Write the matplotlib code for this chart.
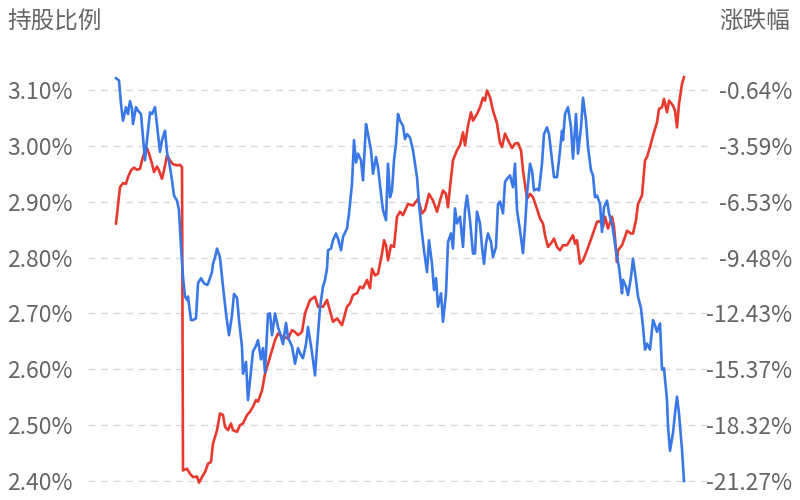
import matplotlib
matplotlib.use("Agg")
import matplotlib.pyplot as plt

plt.rcParams['font.family'] = ['Noto Sans CJK SC', 'DejaVu Sans']

# 持股比例 (%), left axis
red_t = [0, 4, 7, 10, 12, 15, 18, 21, 24, 26, 28, 31, 33, 36, 38, 41, 43, 46, 48, 51,
         54, 57, 61, 64, 66, 67, 71, 74, 77, 81, 83, 86, 89, 92, 95, 97, 101, 104, 107, 109,
         112, 115, 117, 121, 124, 127, 131, 134, 137, 140, 142, 146, 149, 152, 156, 159, 162, 166, 169, 172,
         176, 179, 182, 186, 189, 194, 199, 202, 207, 211, 217, 221, 226, 231, 234, 237, 241, 244, 247, 251,
         254, 256, 259, 262, 266, 268, 270, 272, 275, 278, 281, 284, 287, 292, 297, 302, 306, 309, 313, 317,
         321, 324, 327, 330, 332, 334, 337, 341, 344, 347, 349, 352, 355, 357, 361, 364, 367, 369, 371, 374,
         377, 381, 384, 386, 389, 392, 396, 399, 402, 405, 407, 411, 414, 417, 421, 424, 427, 429, 432, 436,
         438, 441, 444, 447, 451, 454, 457, 459, 461, 464, 467, 471, 474, 477, 481, 484, 487, 489, 492, 496,
         498, 501, 502, 506, 509, 511, 515, 517, 520, 522, 526, 529, 531, 534, 537, 541, 543, 546, 548, 551,
         553, 557, 559, 561, 563, 566, 568]
red_v = [2.861, 2.926, 2.933, 2.932, 2.944, 2.956, 2.961, 2.957, 2.959, 2.974, 2.986, 2.996, 2.986, 2.968, 2.953, 2.963, 2.956, 2.941, 2.956, 2.983,
         2.974, 2.967, 2.965, 2.966, 2.962, 2.419, 2.422, 2.413, 2.407, 2.408, 2.397, 2.407, 2.416, 2.431, 2.434, 2.467, 2.491, 2.521, 2.518, 2.497,
         2.491, 2.503, 2.491, 2.488, 2.500, 2.503, 2.518, 2.524, 2.533, 2.545, 2.542, 2.562, 2.592, 2.610, 2.634, 2.652, 2.664, 2.659, 2.657, 2.655,
         2.670, 2.667, 2.661, 2.667, 2.700, 2.724, 2.730, 2.712, 2.712, 2.724, 2.685, 2.691, 2.679, 2.712, 2.718, 2.733, 2.736, 2.748, 2.745, 2.760,
         2.745, 2.780, 2.768, 2.771, 2.807, 2.831, 2.822, 2.795, 2.822, 2.819, 2.873, 2.882, 2.876, 2.896, 2.893, 2.905, 2.879, 2.885, 2.914, 2.902,
         2.882, 2.902, 2.920, 2.914, 2.890, 2.926, 2.974, 2.992, 3.001, 3.024, 3.001, 3.036, 3.060, 3.045, 3.057, 3.069, 3.086, 3.081, 3.099, 3.087,
         3.063, 3.040, 3.005, 2.998, 3.022, 3.010, 2.996, 3.004, 3.005, 2.992, 2.956, 2.905, 2.914, 2.908, 2.887, 2.870, 2.861, 2.840, 2.819, 2.828,
         2.834, 2.819, 2.813, 2.822, 2.822, 2.831, 2.840, 2.825, 2.831, 2.789, 2.795, 2.813, 2.828, 2.843, 2.864, 2.865, 2.855, 2.873, 2.852, 2.873,
         2.855, 2.792, 2.813, 2.822, 2.837, 2.848, 2.843, 2.843, 2.867, 2.896, 2.911, 2.974, 2.980, 2.998, 3.018, 3.042, 3.066, 3.069, 3.084, 3.060,
         3.081, 3.072, 3.063, 3.033, 3.075, 3.111, 3.123]

# 涨跌幅 (%), right axis
blue_t = [0, 3, 5, 7, 10, 12, 14, 16, 17, 20, 22, 25, 27, 29, 31, 34, 36, 39, 42, 44,
          46, 49, 51, 54, 56, 58, 61, 63, 65, 67, 69, 71, 72, 75, 77, 80, 82, 85, 88, 91,
          92, 96, 97, 99, 101, 104, 107, 110, 113, 116, 118, 121, 123, 126, 127, 130, 132, 135, 137, 140,
          142, 145, 147, 149, 152, 154, 156, 159, 162, 164, 167, 170, 172, 176, 179, 182, 185, 187, 190, 192,
          196, 199, 201, 204, 207, 209, 211, 212, 215, 217, 220, 222, 225, 227, 231, 233, 236, 238, 240, 242,
          245, 247, 250, 252, 255, 257, 260, 262, 265, 267, 270, 272, 274, 276, 278, 280, 282, 284, 287, 289,
          291, 294, 297, 299, 301, 303, 306, 308, 311, 313, 316, 318, 320, 322, 325, 327, 330, 332, 335, 337,
          339, 341, 344, 347, 349, 351, 354, 357, 359, 361, 364, 366, 368, 370, 372, 375, 377, 380, 382, 384,
          387, 389, 391, 394, 397, 399, 401, 404, 407, 409, 411, 414, 416, 418, 421, 423, 426, 428, 431, 433,
          436, 438, 441, 443, 446, 447, 449, 452, 455, 457, 460, 462, 465, 467, 470, 472, 475, 477, 479, 481,
          484, 486, 488, 491, 493, 496, 498, 501, 503, 506, 507, 510, 512, 515, 517, 520, 522, 525, 527, 529,
          531, 534, 537, 539, 541, 544, 546, 548, 551, 552, 554, 557, 559, 561, 563, 566, 568]
blue_v = [-0.02, -0.14, -1.38, -2.26, -1.55, -1.91, -1.23, -1.64, -2.44, -1.55, -1.73, -1.91, -3.15, -4.35, -3.29, -1.82, -1.91, -1.55, -2.97, -3.91,
          -3.29, -2.79, -3.91, -4.71, -5.41, -6.21, -6.48, -6.98, -8.92, -10.51, -11.54, -11.72, -11.54, -12.78, -12.78, -12.69, -10.84, -10.57, -10.84, -10.93,
          -10.87, -10.25, -9.81, -9.48, -9.01, -9.48, -11.01, -12.43, -13.58, -12.52, -11.40, -11.60, -12.78, -14.20, -15.61, -14.99, -17.00, -15.49, -14.43, -14.14,
          -13.84, -14.85, -14.26, -15.52, -12.46, -12.43, -13.58, -12.43, -13.16, -13.46, -14.05, -12.93, -13.70, -14.17, -15.08, -14.26, -14.64, -14.79, -14.05, -13.14,
          -14.49, -15.70, -14.20, -12.13, -11.01, -10.66, -10.07, -9.10, -9.01, -8.57, -8.21, -8.48, -9.10, -8.39, -7.95, -7.15, -5.59, -3.29, -4.47, -4.00,
          -4.35, -5.41, -2.44, -2.97, -3.82, -5.06, -4.18, -4.71, -6.12, -6.98, -7.51, -4.53, -6.30, -5.94, -4.35, -3.47, -1.91, -2.26, -2.53, -3.23,
          -2.97, -3.15, -3.82, -4.53, -5.24, -6.65, -8.21, -9.10, -10.25, -8.57, -9.81, -11.19, -10.57, -12.07, -11.37, -12.87, -11.37, -8.66, -8.21, -9.01,
          -6.89, -7.68, -7.33, -8.92, -6.98, -6.21, -7.51, -9.27, -9.27, -7.06, -7.68, -8.92, -9.81, -8.74, -8.21, -8.66, -9.45, -8.92, -6.65, -6.53,
          -7.15, -5.50, -5.33, -5.15, -5.77, -4.53, -6.98, -8.04, -9.25, -7.86, -6.12, -4.53, -4.88, -5.94, -5.86, -5.94, -4.53, -2.97, -2.61, -2.97,
          -4.35, -5.24, -5.24, -4.35, -2.79, -3.29, -1.91, -1.55, -2.61, -4.26, -1.91, -4.00, -2.61, -1.05, -2.26, -3.65, -4.88, -5.15, -6.30, -6.21,
          -6.65, -8.13, -6.83, -6.48, -7.15, -7.68, -8.39, -9.45, -9.98, -11.37, -10.66, -11.01, -11.46, -10.51, -9.54, -10.66, -11.54, -12.16, -13.14, -14.34,
          -14.02, -14.34, -12.78, -13.05, -13.40, -12.96, -15.40, -15.32, -17.00, -18.38, -19.68, -18.73, -17.70, -16.82, -17.70, -19.62, -21.27]

left_ticks = [2.40, 2.50, 2.60, 2.70, 2.80, 2.90, 3.00, 3.10]
right_ticks = [-21.27, -18.32, -15.37, -12.43, -9.48, -6.53, -3.59, -0.64]

fig = plt.figure(figsize=(8, 5), dpi=100)
ax = fig.add_axes([0.11, 0.036, 0.7775, 0.816])
ax2 = ax.twinx()

red = '#e8392f'
blue = '#3a78e6'
grey = '#666666'

ax.plot(red_t, red_v, color=red, lw=1.9, clip_on=False, solid_joinstyle='round')
ax2.plot(blue_t, blue_v, color=blue, lw=1.9, clip_on=False, solid_joinstyle='round')

lo, hi = 2.40 - 1 / 560, 3.10 + 16 / 560
ax.set_ylim(lo, hi)
# map right axis so its ticks sit on the left gridlines
k = (right_ticks[-1] - right_ticks[0]) / (left_ticks[-1] - left_ticks[0])
ax2.set_ylim(right_ticks[0] + (lo - left_ticks[0]) * k, right_ticks[0] + (hi - left_ticks[0]) * k)
ax.set_xlim(-28, 594)

ax.set_yticks(left_ticks)
ax.set_yticklabels([f'{v:.2f}%' for v in left_ticks])
ax2.set_yticks(right_ticks)
ax2.set_yticklabels([f'{v:.2f}%' for v in right_ticks])

ax.set_xticks([])
for a in (ax, ax2):
    for s in a.spines.values():
        s.set_visible(False)
    a.tick_params(axis='y', length=0, labelsize=16.5, labelcolor=grey)
ax.tick_params(axis='y', pad=11)
ax2.tick_params(axis='y', pad=59)
for lab in ax2.get_yticklabels():
    lab.set_horizontalalignment('right')

ax.grid(axis='y', color='#d9d9d9', linestyle=(0, (5, 4)), lw=1)
ax.set_axisbelow(True)

fig.text(0.009, 0.955, '持股比例', fontsize=17, color=grey, ha='left', va='center')
fig.text(0.988, 0.955, '涨跌幅', fontsize=17, color=grey, ha='right', va='center')

fig.savefig('out.png', dpi=100)
